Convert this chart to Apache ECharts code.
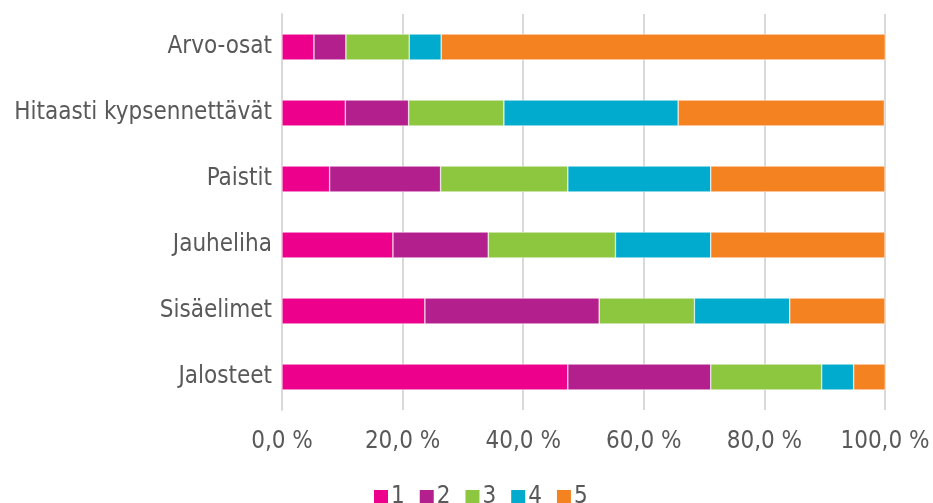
<!DOCTYPE html>
<html><head><meta charset="utf-8">
<script src="https://cdn.jsdelivr.net/npm/echarts@6/dist/echarts.min.js"></script>
<style>html,body{margin:0;padding:0;background:#fff}#c{width:933px;height:503px}</style>
</head><body><div id="c"></div>
<script>
const categories = ['Arvo-osat','Hitaasti kypsennettävät','Paistit','Jauheliha','Sisäelimet','Jalosteet'];
const seriesNames = ['1','2','3','4','5'];
const s1 = [5.3, 10.5, 7.9, 18.4, 23.7, 47.4];
const s2 = [5.3, 10.5, 18.4, 15.8, 28.9, 23.7];
const s3 = [10.5, 15.8, 21.1, 21.1, 15.8, 18.4];
const s4 = [5.3, 28.9, 23.7, 15.8, 15.8, 5.3];
const s5 = [73.7, 34.2, 28.9, 28.9, 15.8, 5.3];
const colors = ['#EC008C','#B41F8E','#8DC63F','#00ABCD','#F58220'];
const values = [s1,s2,s3,s4,s5];
const font = '"DejaVu Sans Condensed", "DejaVu Sans"';
const chart = echarts.init(document.getElementById('c'));
chart.setOption({
  animation:false,
  textStyle:{fontFamily:font},
  grid:{left:282,right:48,top:14,bottom:93,containLabel:false},
  xAxis:{type:'value',min:0,max:100,interval:20,
    axisLabel:{color:'#595959',fontSize:24,fontFamily:font,margin:20,
      formatter:v=>v.toFixed(1).replace('.',',')+' %'},
    splitLine:{lineStyle:{color:'#d9d9d9',width:2}},
    axisLine:{show:false},axisTick:{show:false}},
  yAxis:{type:'category',data:categories,inverse:true,
    axisLabel:{color:'#595959',fontSize:24,fontFamily:font,margin:10},
    axisLine:{show:true,lineStyle:{color:'#d9d9d9',width:2}},axisTick:{show:false}},
  legend:{top:480,left:369,itemWidth:14,itemHeight:14,itemGap:15,
    icon:'rect',itemStyle:{borderWidth:0},
    textStyle:{color:'#595959',fontSize:24,fontFamily:font,padding:[0,0,0,-2]},
    data:seriesNames},
  series:values.map((d,i)=>({name:seriesNames[i],type:'bar',stack:'t',data:d,barWidth:26,
    itemStyle:{color:colors[i],borderColor:'#fff',borderWidth:0.5}}))
});
</script></body></html>
